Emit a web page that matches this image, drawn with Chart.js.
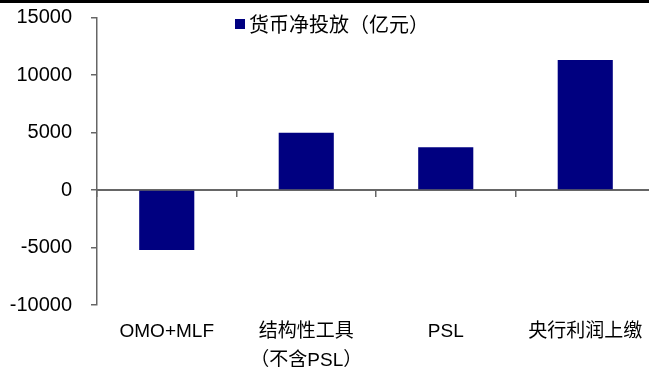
<!DOCTYPE html>
<html>
<head>
<meta charset="utf-8">
<script src="https://cdn.jsdelivr.net/npm/chart.js@4.4.1/dist/chart.umd.min.js"></script>
<style>
  html, body { margin: 0; padding: 0; background: #fff; overflow: hidden; }
  #wrap { border-top: 3px solid #000; width: 655px; height: 364px; }
</style>
</head>
<body>
<div id="wrap"><canvas id="chart" width="655" height="364"></canvas></div>
<script>
// 货币净投放（亿元）
const categories = ['OMO+MLF', ['结构性工具', '（不含PSL）'], 'PSL', '央行利润上缴'];
const netInjection = [-5220, 4980, 3710, 11300];
const seriesName = '货币净投放（亿元）';
const yTicks = [-10000, -5000, 0, 5000, 10000, 15000];

const axisGray = '#666666';
const barColor = '#000080';
const fontFamily = '"Liberation Sans", Arial, "Noto Sans CJK SC", sans-serif';

// legend sits inside the plot, near the top
const inlineLegend = {
    id: 'inlineLegend',
    afterDraw(chart) {
        const ctx = chart.ctx;
        const ds = chart.data.datasets[0];
        ctx.save();
        ctx.fillStyle = ds.backgroundColor;
        ctx.fillRect(235, 16, 10, 10);
        ctx.fillStyle = '#000';
        ctx.font = '20px "Noto Sans CJK SC", sans-serif';
        ctx.textBaseline = 'middle';
        ctx.textAlign = 'left';
        ctx.fillText(ds.label, 249, 21);
        ctx.restore();
    }
};

new Chart(document.getElementById('chart'), {
    type: 'bar',
    data: {
        labels: categories,
        datasets: [{
            label: seriesName,
            data: netInjection,
            backgroundColor: barColor,
            borderWidth: 0,
            barPercentage: 0.395,
            categoryPercentage: 1
        }]
    },
    options: {
        responsive: false,
        animation: false,
        devicePixelRatio: 1,
        layout: { padding: { top: 14.5, left: 0, right: 0, bottom: 0 } },
        plugins: {
            legend: { display: false },
            tooltip: { enabled: false }
        },
        scales: {
            // zero line with category separators
            x: {
                position: { y: 0 },
                offset: true,
                grid: {
                    display: true,
                    offset: true,
                    drawOnChartArea: false,
                    drawTicks: true,
                    tickLength: 6,
                    color: axisGray,
                    lineWidth: 1.5
                },
                border: { display: true, color: axisGray, width: 2 },
                ticks: { display: false },
                afterFit(scale) { scale.height = 0; }
            },
            // category names along the bottom
            x2: {
                type: 'category',
                position: 'bottom',
                offset: true,
                grid: { display: false },
                border: { display: false },
                ticks: {
                    color: '#000',
                    padding: 4,
                    maxRotation: 0,
                    autoSkip: false,
                    font: { family: fontFamily, size: 19, lineHeight: 1.55 }
                },
                afterFit(scale) { scale.height = 62; }
            },
            y: {
                min: yTicks[0],
                max: yTicks[yTicks.length - 1],
                afterBuildTicks(scale) {
                    scale.ticks = yTicks.map(v => ({ value: v }));
                },
                afterFit(scale) {
                    scale.width = 97;
                    scale.paddingTop = 0;
                    scale.paddingBottom = 0;
                },
                grid: {
                    display: true,
                    drawOnChartArea: false,
                    drawTicks: true,
                    tickLength: 6,
                    color: axisGray,
                    lineWidth: 1.5
                },
                border: { display: true, color: axisGray, width: 1.5 },
                ticks: {
                    color: '#000',
                    padding: 19,
                    font: { family: fontFamily, size: 20 },
                    callback: v => String(v)
                }
            }
        }
    },
    plugins: [inlineLegend]
});
</script>
</body>
</html>
